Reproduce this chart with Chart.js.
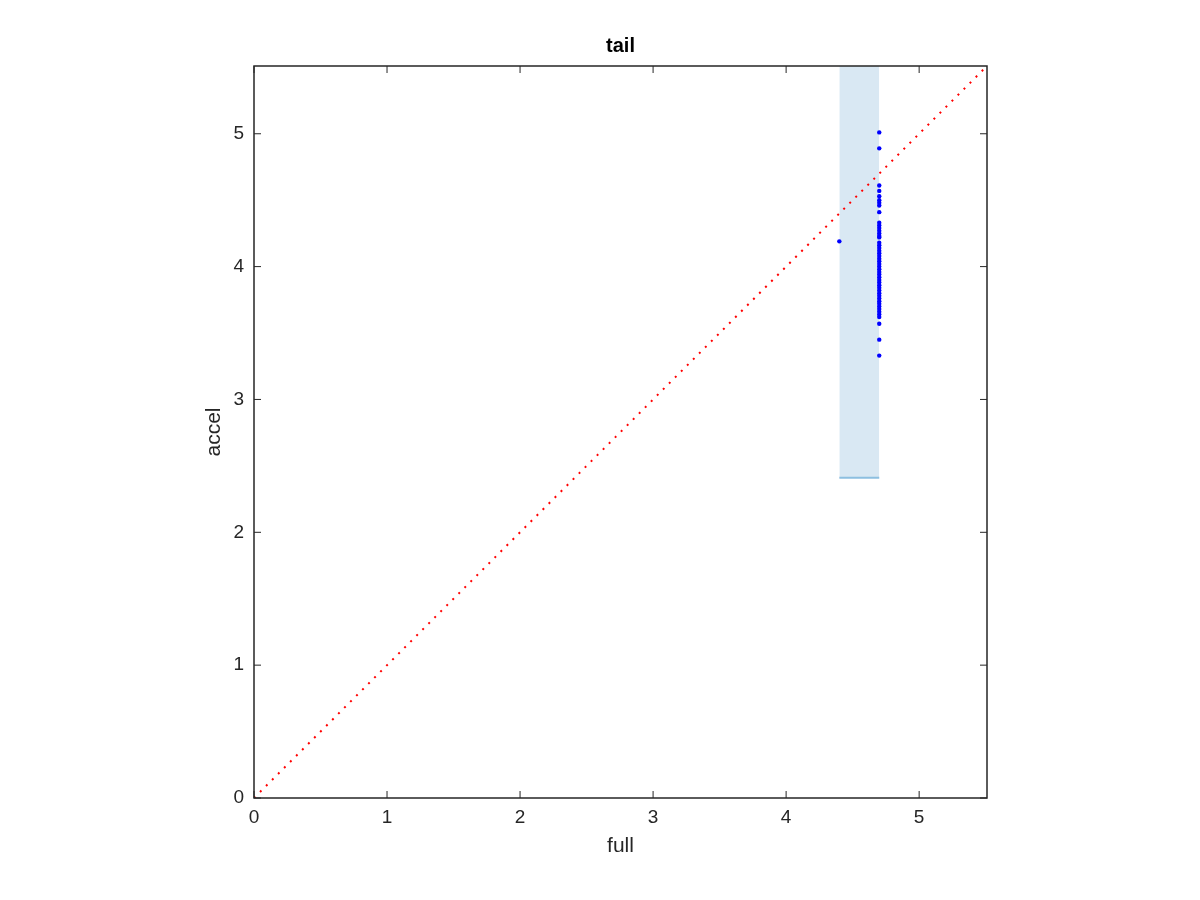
<!DOCTYPE html>
<html>
<head>
<meta charset="utf-8">
<script src="https://cdn.jsdelivr.net/npm/chart.js@4.4.1/dist/chart.umd.min.js"></script>
<style>
  body { margin: 0; background: #fff; }
  #wrap { width: 1200px; height: 900px; }
</style>
</head>
<body>
<div id="wrap"><canvas id="tailChart" width="1200" height="900"></canvas></div>
<script>
// data
const fullValue = 4.70;
const accelValues = [5.01, 4.89, 4.61, 4.57, 4.53, 4.50, 4.48, 4.46, 4.41, 4.33, 4.31,
  4.29, 4.27, 4.25, 4.23, 4.22, 4.18, 4.16, 4.14, 4.12, 4.10, 4.08, 4.06, 4.04,
  4.02, 4.00, 3.98, 3.96, 3.94, 3.92, 3.90, 3.88, 3.86, 3.84, 3.82, 3.80, 3.78,
  3.76, 3.74, 3.72, 3.70, 3.68, 3.66, 3.64, 3.62, 3.57, 3.45, 3.33];
const outlier = { x: 4.40, y: 4.19 };
const bandX = [4.40, 4.70];
const bandBottom = 2.41;
const axisMax = 5.51;
const tickValues = [0, 1, 2, 3, 4, 5];

const points = accelValues.map(v => ({ x: fullValue, y: v }));
points.push(outlier);

const fontFamily = '"Liberation Sans", Arial, sans-serif';

// box, inward ticks, title and axis labels
const matlabFrame = {
    id: 'matlabFrame',
    afterDraw(chart) {
        const { ctx, chartArea: a, scales } = chart;
        ctx.save();
        ctx.strokeStyle = '#262626';
        ctx.lineWidth = 1.5;
        ctx.strokeRect(a.left, a.top, a.right - a.left, a.bottom - a.top);
        ctx.lineWidth = 1;
        ctx.beginPath();
        tickValues.forEach(t => {
            const px = scales.x.getPixelForValue(t);
            ctx.moveTo(px, a.bottom); ctx.lineTo(px, a.bottom - 7);
            ctx.moveTo(px, a.top); ctx.lineTo(px, a.top + 7);
            const py = scales.y.getPixelForValue(t);
            ctx.moveTo(a.left, py); ctx.lineTo(a.left + 7, py);
            ctx.moveTo(a.right, py); ctx.lineTo(a.right - 7, py);
        });
        ctx.stroke();

        ctx.fillStyle = '#000';
        ctx.font = 'bold 20px ' + fontFamily;
        ctx.textAlign = 'center';
        ctx.textBaseline = 'middle';
        ctx.fillText('tail', (a.left + a.right) / 2, 46);

        ctx.fillStyle = '#262626';
        ctx.font = '21px ' + fontFamily;
        ctx.fillText('full', (a.left + a.right) / 2, 846);
        ctx.translate(214, (a.top + a.bottom) / 2);
        ctx.rotate(-Math.PI / 2);
        ctx.fillText('accel', 0, 0);
        ctx.restore();
    }
};

const ctx = document.getElementById('tailChart').getContext('2d');
new Chart(ctx, {
    type: 'scatter',
    data: {
        datasets: [
            {
                label: 'points',
                data: points,
                backgroundColor: '#0000ff',
                borderColor: '#0000ff',
                pointRadius: 2.2,
                borderWidth: 0,
                order: 0
            },
            {
                label: 'diagonal',
                type: 'line',
                data: [{ x: 0, y: 0 }, { x: axisMax, y: axisMax }],
                borderColor: '#ff0000',
                borderWidth: 2,
                borderDash: [2, 6.5],
                pointRadius: 0,
                fill: false,
                order: 1
            },
            {
                label: 'band',
                type: 'line',
                data: bandX.map(x => ({ x: x, y: bandBottom })),
                borderColor: '#8dbfe0',
                backgroundColor: '#d9e8f3',
                borderWidth: 2,
                pointRadius: 0,
                fill: 'end',
                order: 2
            }
        ]
    },
    options: {
        responsive: false,
        animation: false,
        layout: { padding: { left: 150, right: 213, top: 66, bottom: 0 } },
        plugins: { legend: { display: false }, tooltip: { enabled: false } },
        scales: {
            x: {
                type: 'linear',
                min: 0,
                max: axisMax,
                grid: { display: false, drawTicks: false },
                border: { display: false },
                afterBuildTicks: s => { s.ticks = tickValues.map(v => ({ value: v })); },
                afterFit: s => { s.height = 102; },
                ticks: {
                    padding: 8,
                    color: '#262626',
                    font: { family: fontFamily, size: 19 }
                }
            },
            y: {
                type: 'linear',
                min: 0,
                max: axisMax,
                grid: { display: false, drawTicks: false },
                border: { display: false },
                afterBuildTicks: s => { s.ticks = tickValues.map(v => ({ value: v })); },
                afterFit: s => { s.width = 104; },
                ticks: {
                    padding: 10,
                    color: '#262626',
                    font: { family: fontFamily, size: 19 }
                }
            }
        }
    },
    plugins: [matlabFrame]
});
</script>
</body>
</html>
